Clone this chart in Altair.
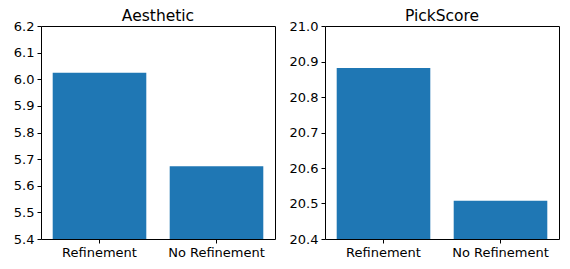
import altair as alt
import pandas as pd

categories = ["Refinement", "No Refinement"]
aesthetic = [6.024, 5.673]
pickscore = [20.882, 20.508]
aesthetic_ticks = [5.4, 5.5, 5.6, 5.7, 5.8, 5.9, 6.0, 6.1, 6.2]
pickscore_ticks = [20.4, 20.5, 20.6, 20.7, 20.8, 20.9, 21.0]

FONT = "DejaVu Sans"


def panel(title, values, domain, ticks):
    df = pd.DataFrame({"cat": categories, "val": values})
    return (
        alt.Chart(
            df,
            title=alt.TitleParams(
                title, fontSize=15.5, fontWeight="normal", font=FONT,
                color="black", anchor="middle", offset=-4,
            ),
        )
        .mark_bar(color="#1f77b4", clip=True)
        .encode(
            x=alt.X(
                "cat:N", sort=categories, title=None,
                scale=alt.Scale(paddingInner=0.2, paddingOuter=0.1),
                axis=alt.Axis(labelAngle=0),
            ),
            y=alt.Y(
                "val:Q", title=None,
                scale=alt.Scale(domain=domain, nice=False, zero=False),
                axis=alt.Axis(values=ticks, format=".1f"),
            ),
        )
        .properties(width=234, height=213)
    )


left = panel("Aesthetic", aesthetic, [5.4, 6.2], aesthetic_ticks)
right = panel("PickScore", pickscore, [20.4, 21.0], pickscore_ticks)

chart = (
    alt.hconcat(left, right, spacing=12)
    .properties(padding={"left": 4, "top": 0, "right": 0, "bottom": 0})
    .configure_view(stroke="black", strokeWidth=1)
    .configure_axis(
        domain=False, grid=False, tickColor="black", tickSize=4,
        labelPadding=3, labelFont=FONT, labelFontSize=13,
        labelColor="black", tickWidth=1,
    )
)

chart.save("out.html", embed_options={"renderer": "svg", "actions": False})
